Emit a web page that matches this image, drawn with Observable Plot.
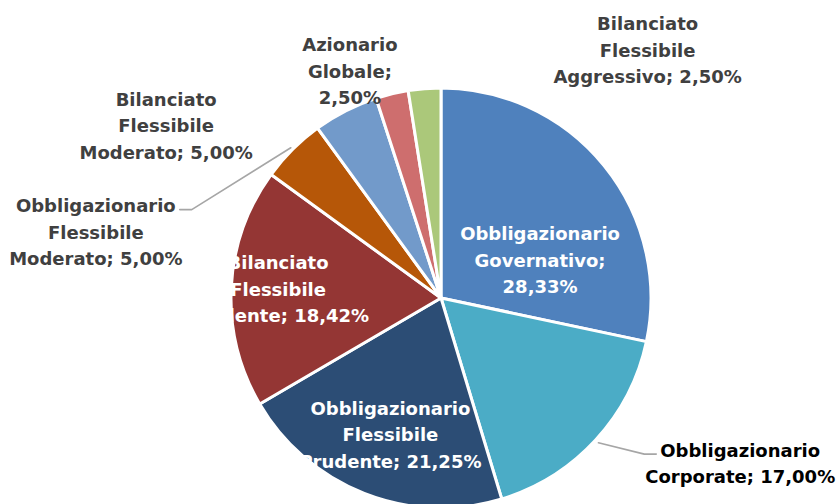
<!DOCTYPE html>
<html>
<head>
<meta charset="utf-8">
<script src="https://cdn.jsdelivr.net/npm/d3@7"></script>
<script src="https://cdn.jsdelivr.net/npm/@observablehq/plot@0.6"></script>
<style>
  html, body { margin: 0; padding: 0; background: #ffffff; }
  #chart svg { display: block; }
</style>
</head>
<body>
<div id="chart"></div>
<script>
// ---- data ----
const categories = [
  "Obbligazionario Governativo",
  "Obbligazionario Corporate",
  "Obbligazionario Flessibile Prudente",
  "Bilanciato Flessibile Prudente",
  "Obbligazionario Flessibile Moderato",
  "Bilanciato Flessibile Moderato",
  "Azionario Globale",
  "Bilanciato Flessibile Aggressivo"
];
const values = [28.33, 17.00, 21.25, 18.42, 5.00, 5.00, 2.50, 2.50];

// ---- styles ----
const sliceColors = ["#4F81BD", "#4BACC6", "#2C4D75", "#943634", "#B65708", "#729ACA", "#CE6E6E", "#ABC87A"];
const labelColors = ["#FFFFFF", "#000000", "#FFFFFF", "#FFFFFF", "#404040", "#404040", "#404040", "#404040"];
// word indices after which a line break is placed
const labelBreaks = [[0, 1], [0], [0, 1], [0, 1], [0, 1], [0, 1], [0, 1], [0, 1]];

// ---- layout ----
const W = 838, H = 504;
const CX = 441, CY = 298, R = 210;
const labelAngle = [67.8, 118.6, 200.8, 273.9, 281.2, 302.4, 338.2, 39.5];   // degrees, clockwise from 12 o'clock
const labelRadius = [0.507, 1.62, 0.685, 0.78, 1.678, 1.553, 1.175, 1.543]; // multiples of R
const hasLeader = [false, true, false, false, true, false, false, false];
const FONT_SIZE = 18, LINE_H = 1.47;
const FONT_FAMILY = "DejaVu Sans";

const fmt = v => v.toFixed(2).replace(".", ",") + "%";
const polar = (deg, r) => {
  const t = deg * Math.PI / 180;
  return [CX + r * Math.sin(t), CY - r * Math.cos(t)];
};

const rows = categories.map((name, i) => ({name, value: values[i], i}));
const arcs = d3.pie().sort(null).value(d => d.value).startAngle(0).endAngle(2 * Math.PI)(rows);

const ctx = document.createElement("canvas").getContext("2d");
ctx.font = `bold ${FONT_SIZE}px "${FONT_FAMILY}"`;

const labels = rows.map((d, i) => {
  const words = `${d.name}; ${fmt(d.value)}`.split(" ");
  let text = "";
  words.forEach((w, k) => {
    text += w;
    if (k < words.length - 1) text += labelBreaks[i].includes(k) ? "\n" : " ";
  });
  const [x, y] = polar(labelAngle[i], labelRadius[i] * R);
  return {x, y, text, color: labelColors[i], lines: text.split("\n")};
});

// leader lines
const leaders = [];
arcs.forEach((a, i) => {
  if (!hasLeader[i]) return;
  const mid = (a.startAngle + a.endAngle) / 2 * 180 / Math.PI;
  const [sx, sy] = polar(mid, R * 1.015);
  const L = labels[i];
  const w1 = ctx.measureText(L.lines[0]).width;
  const line1Y = L.y - (L.lines.length - 1) / 2 * FONT_SIZE * LINE_H;
  const side = L.x > CX ? -1 : 1;
  const ex = L.x + side * (w1 / 2 + 4);
  const ey = line1Y + 6;
  const bx = ex + side * 12;
  leaders.push({x: sx, y: sy, k: i}, {x: bx, y: ey, k: i}, {x: ex, y: ey, k: i});
});

const slices = (index, scales) => {
  const cx = scales.x(CX), cy = scales.y(CY);
  const r = scales.x(CX + R) - cx;
  const arc = d3.arc().innerRadius(0).outerRadius(r);
  const g = d3.create("svg:g").attr("transform", `translate(${cx},${cy})`);
  g.selectAll("path").data(arcs).join("path")
    .attr("d", arc)
    .attr("fill", d => sliceColors[d.index])
    .attr("stroke", "#FFFFFF")
    .attr("stroke-width", 3)
    .attr("stroke-linejoin", "round");
  return g.node();
};

const chart = Plot.plot({
  width: W,
  height: H,
  margin: 0,
  x: {domain: [0, W], range: [0, W], axis: null},
  y: {domain: [0, H], range: [0, H], axis: null},
  color: {type: "identity"},
  style: {fontFamily: FONT_FAMILY, background: "#ffffff"},
  marks: [
    slices,
    Plot.line(leaders, {x: "x", y: "y", z: "k", stroke: "#A6A6A6", strokeWidth: 1.6, curve: "linear"}),
    Plot.text(labels, {
      x: "x", y: "y", text: "text", fill: "color",
      fontSize: FONT_SIZE, fontWeight: "bold", fontFamily: FONT_FAMILY,
      lineHeight: LINE_H, lineAnchor: "middle", textAnchor: "middle"
    })
  ]
});
document.getElementById("chart").appendChild(chart);
</script>
</body>
</html>
